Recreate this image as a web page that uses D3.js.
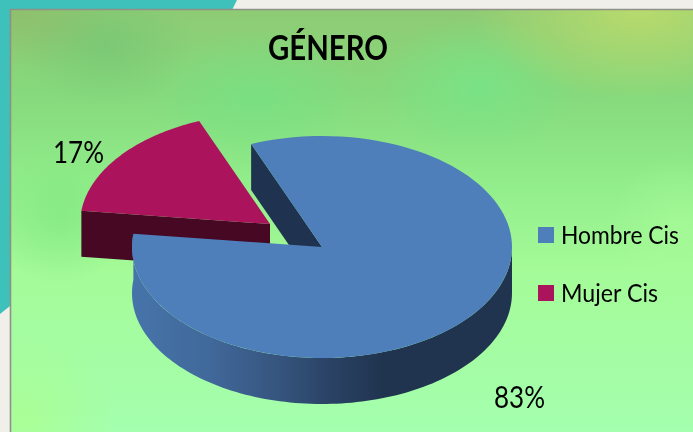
<!DOCTYPE html>
<html><head><meta charset="utf-8">
<script src="https://cdn.jsdelivr.net/npm/d3@7/dist/d3.min.js"></script>
<style>html,body{margin:0;padding:0;background:#f1efea;overflow:hidden}svg{display:block}text{font-family:Lato,"Noto Sans",sans-serif;fill:#000}</style>
</head><body><svg id="c" width="693" height="432"></svg>
<script>
const categories = ["Hombre Cis", "Mujer Cis"];
const values = [83, 17];
const labels = ["83%", "17%"];
const title = "GÉNERO";
const colors = ["#4e7fba", "#ab135c"];
const darks = ["#1f3350", "#460823"];

const svg = d3.select("#c"), defs = svg.append("defs");
const W = 693, H = 432;
// page backdrop
svg.append("rect").attr("width", W).attr("height", H).attr("fill", "#f1efea");
svg.append("path").attr("d", "M0 0H237L232 10H10V306L0 314Z").attr("fill", "#3fc1bb");

// panel background
const lg = defs.append("linearGradient").attr("id", "base").attr("x1", 0).attr("y1", 0).attr("x2", 0).attr("y2", 1);
[[0, "#8ecb74"], [.2, "#86d97c"], [.42, "#92ee8b"], [.62, "#a4fb98"], [1, "#a4ffae"]].forEach(d => lg.append("stop").attr("offset", d[0]).attr("stop-color", d[1]));
const panel = {x: 10, y: 9, w: 683, h: 423};
svg.append("rect").attr("x", panel.x).attr("y", panel.y).attr("width", panel.w).attr("height", panel.h).attr("fill", "url(#base)");
const blobs = [
  [105, 45, 90, 60, "#6cc072", .5], [255, 100, 110, 70, "#74e284", .7], [478, 88, 100, 70, "#78e486", .9],
  [640, 10, 170, 90, "#bcdc6c", .9], [20, 15, 90, 55, "#8fb868", .6], [60, 215, 70, 70, "#7ce67e", .6],
  [25, 420, 90, 90, "#aeff88", .6], [680, 225, 70, 70, "#a8fc98", .6]
];
blobs.forEach((b, i) => {
  const g = defs.append("radialGradient").attr("id", "b" + i);
  g.append("stop").attr("offset", 0).attr("stop-color", b[4]).attr("stop-opacity", b[5]);
  g.append("stop").attr("offset", 1).attr("stop-color", b[4]).attr("stop-opacity", 0);
});
defs.append("clipPath").attr("id", "pc").append("rect").attr("x", panel.x).attr("y", panel.y).attr("width", panel.w).attr("height", panel.h);
svg.append("g").attr("clip-path", "url(#pc)").selectAll("ellipse").data(blobs).join("ellipse")
  .attr("cx", d => d[0]).attr("cy", d => d[1]).attr("rx", d => d[2]).attr("ry", d => d[3]).attr("fill", (d, i) => `url(#b${i})`);
svg.append("path").attr("d", `M${panel.x + .5} ${H}V${panel.y + .5}H${W}`).attr("fill", "none").attr("stroke", "#8f9088").attr("stroke-width", 1.6);

// pie geometry
const rad = d => d * Math.PI / 180;
const pie = d3.pie().sort(null).value(d => d).startAngle(rad(-21.9)).endAngle(rad(338.1));
const arcs = pie(values);
const cx = 322, cy = 247, rx = 190, ry = 111, depth = 46;
const explode = [-52, -23];
const sx = d3.scaleLinear().domain([-1, 1]).range([-rx, rx]);
const sy = d3.scaleLinear().domain([-1, 1]).range([-ry, ry]);
const pt = (a, ox = 0, oy = 0) => [cx + ox + sx(Math.sin(a)), cy + oy + sy(-Math.cos(a))];
const samples = (a0, a1) => d3.range(0, 121).map(i => a0 + (a1 - a0) * i / 120);
const line = d3.line();
const face = (a, ox, oy) => line([[cx + ox, cy + oy], ...samples(a.startAngle, a.endAngle).map(t => pt(t, ox, oy))]) + "Z";

const wall = defs.append("linearGradient").attr("id", "wall").attr("gradientUnits", "userSpaceOnUse")
  .attr("x1", cx - rx).attr("x2", cx + rx).attr("y1", 0).attr("y2", 0);
[[0, "#4674aa"], [.2, "#41699b"], [.38, "#36557f"], [.52, "#2a4365"], [.66, "#20344f"], [1, "#20344f"]]
  .forEach(d => wall.append("stop").attr("offset", d[0]).attr("stop-color", d[1]));

const soft = defs.append("filter").attr("id", "soft").attr("color-interpolation-filters", "sRGB");
soft.append("feGaussianBlur").attr("stdDeviation", .45);
const pieG = svg.append("g").attr("filter", "url(#soft)");

// small slice: front cut wall, then top
const red = arcs[1], [ex, ey] = explode;
const redEnd = pt(red.startAngle, ex, ey);
pieG.append("path").attr("fill", darks[1]).attr("d", line([
  [cx + ex, cy + ey], redEnd, [redEnd[0], redEnd[1] + depth], [cx + ex, cy + ey + depth]
]) + "Z");
pieG.append("path").attr("fill", colors[1]).attr("d", face(red, ex, ey));

// large slice: inner cut wall, outer wall, top
const blue = arcs[0];
const s = pt(blue.startAngle);
pieG.append("path").attr("fill", darks[0]).attr("d", line([
  [cx, cy], s, [s[0], s[1] + depth], [cx, cy + depth]
]) + "Z");
const outer = samples(Math.PI / 2, blue.endAngle);
pieG.append("path").attr("fill", "url(#wall)").attr("d", line([
  ...outer.map(t => pt(t)), ...outer.slice().reverse().map(t => pt(t, 0, depth))
]) + "Z");
pieG.append("path").attr("fill", colors[0]).attr("d", face(blue, 0, 0));

// text
const textG = svg.append("g").attr("filter", "url(#soft)");
textG.append("text").attr("x", 268).attr("y", 60).attr("font-weight", 700).attr("font-size", 34)
  .attr("textLength", 120).attr("lengthAdjust", "spacingAndGlyphs").text(title);
const labelPos = [[494, 408], [53, 163]];
textG.selectAll(".pct").data(labels).join("text").attr("class", "pct")
  .attr("x", (d, i) => labelPos[i][0]).attr("y", (d, i) => labelPos[i][1]).attr("font-size", 31)
  .attr("textLength", 51).attr("lengthAdjust", "spacingAndGlyphs").text(d => d);
const ly = d3.scalePoint().domain(categories).range([235, 293]);
const legW = [118, 97];
const leg = textG.selectAll(".leg").data(categories).join("g").attr("class", "leg").attr("transform", d => `translate(538,${ly(d)})`);
leg.append("rect").attr("y", -8).attr("width", 16).attr("height", 16).attr("fill", (d, i) => colors[i]);
leg.append("text").attr("x", 23).attr("y", 9).attr("font-size", 25)
  .attr("textLength", (d, i) => legW[i]).attr("lengthAdjust", "spacingAndGlyphs").text(d => d);
</script></body></html>
